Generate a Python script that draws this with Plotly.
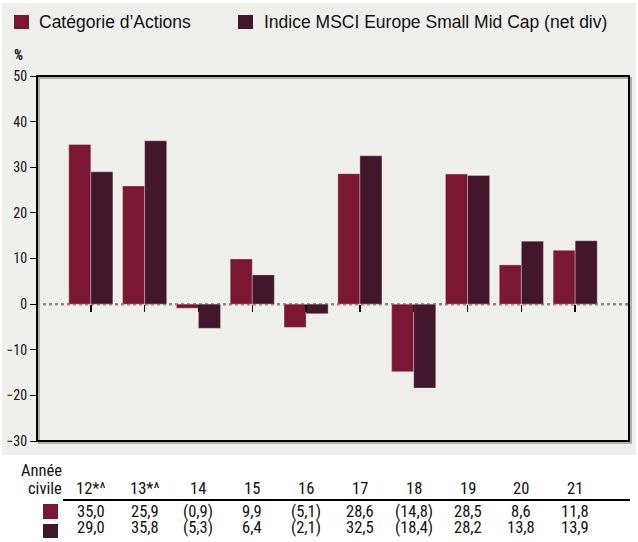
import plotly.graph_objects as go

years = ["12*^", "13*^", "14", "15", "16", "17", "18", "19", "20", "21"]
categorie = [35.0, 25.9, -0.9, 9.9, -5.1, 28.6, -14.8, 28.5, 8.6, 11.8]
indice = [29.0, 35.8, -5.3, 6.4, -2.1, 32.5, -18.4, 28.2, 13.8, 13.9]
series_names = ["Catégorie d’Actions", "Indice MSCI Europe Small Mid Cap (net div)"]
colors = ["#7b1733", "#43172b"]
y_ticks = [50, 40, 30, 20, 10, 0, -10, -20, -30]

W, H = 638, 542
L, R, T, B = 37, 629, 76, 441
NARROW = "Roboto Condensed, Liberation Sans, sans-serif"
LEGFONT = "Liberation Sans, Arial, sans-serif"
GREY = "#efefeb"
TXT = "#111111"


def px(x):
    return (x - L) / (R - L)


def py(y):
    return (B - y) / (B - T)


def fmt(v):
    s = f"{abs(v):.1f}".replace(".", ",")
    return f"({s})" if v < 0 else s


fig = go.Figure()
for name, vals, c in zip(series_names, [categorie, indice], colors):
    fig.add_trace(go.Bar(
        x=years, y=vals, name=name, marker_color=c,
        marker_line=dict(color="rgba(255,255,255,0.3)", width=1),
        showlegend=False, hoverinfo="skip",
    ))

shapes = []
# page grey background
shapes.append(dict(type="rect", xref="paper", yref="paper", layer="below",
                   x0=px(2), x1=px(636), y0=py(455), y1=py(3),
                   fillcolor=GREY, line=dict(width=0)))
# zero line (dotted)
shapes.append(dict(type="line", xref="paper", yref="y", layer="below",
                   x0=0, x1=1, y0=0, y1=0,
                   line=dict(color="#888888", width=2.5, dash="dot")))
# frame shadow and frame
shapes.append(dict(type="rect", xref="paper", yref="paper",
                   x0=px(L + 2), x1=px(R + 2), y0=py(B + 2), y1=py(T + 2),
                   line=dict(color="#b0b0ac", width=2)))
shapes.append(dict(type="rect", xref="paper", yref="paper",
                   x0=0, x1=1, y0=0, y1=1,
                   line=dict(color="#000000", width=2)))
# legend squares
shapes.append(dict(type="rect", xref="paper", yref="paper",
                   x0=px(14), x1=px(29), y0=py(29), y1=py(15),
                   fillcolor=colors[0], line=dict(width=0)))
shapes.append(dict(type="rect", xref="paper", yref="paper",
                   x0=px(238), x1=px(253), y0=py(29), y1=py(15),
                   fillcolor=colors[1], line=dict(width=0)))
# table rule and key squares
shapes.append(dict(type="line", xref="paper", yref="paper",
                   x0=px(63), x1=px(630), y0=py(500), y1=py(500),
                   line=dict(color="#000000", width=2)))
shapes.append(dict(type="rect", xref="paper", yref="paper",
                   x0=px(43), x1=px(58), y0=py(519), y1=py(504),
                   fillcolor=colors[0], line=dict(width=0)))
shapes.append(dict(type="rect", xref="paper", yref="paper",
                   x0=px(43), x1=px(58), y0=py(538), y1=py(524),
                   fillcolor=colors[1], line=dict(width=0)))

ann = []
leg = dict(family=LEGFONT, size=17.5, color=TXT)
hdr = dict(family=NARROW, size=16.5, color=TXT)
num = dict(family=NARROW, size=16.5, color=TXT)
ann.append(dict(text=series_names[0], x=px(37), y=py(22), xref="paper", yref="paper",
                xanchor="left", yanchor="middle", showarrow=False, font=leg))
ann.append(dict(text=series_names[1], x=px(262), y=py(22), xref="paper", yref="paper",
                xanchor="left", yanchor="middle", showarrow=False, font=leg))
ann.append(dict(text="<b>%</b>", x=px(12), y=py(55), xref="paper", yref="paper",
                xanchor="left", yanchor="middle", showarrow=False,
                font=dict(family=NARROW, size=14, color=TXT)))
ann.append(dict(text="Année", x=px(64), y=py(471), xref="paper", yref="paper",
                xanchor="right", yanchor="middle", showarrow=False, font=hdr))
ann.append(dict(text="civile", x=px(64), y=py(488), xref="paper", yref="paper",
                xanchor="right", yanchor="middle", showarrow=False, font=hdr))
for i, yr in enumerate(years):
    ann.append(dict(text=yr, x=i, y=py(488), xref="x", yref="paper",
                    xanchor="center", yanchor="middle", showarrow=False, font=hdr))
    ann.append(dict(text=fmt(categorie[i]), x=i, y=py(511.5), xref="x", yref="paper",
                    xanchor="center", yanchor="middle", showarrow=False, font=num))
    ann.append(dict(text=fmt(indice[i]), x=i, y=py(527), xref="x", yref="paper",
                    xanchor="center", yanchor="middle", showarrow=False, font=num))

fig.update_layout(
    width=W, height=H,
    margin=dict(l=L, r=W - R, t=T, b=H - B, pad=0),
    paper_bgcolor="white", plot_bgcolor=GREY,
    barmode="group", bargap=0.18, bargroupgap=0,
    shapes=shapes, annotations=ann, hovermode=False,
    xaxis=dict(type="category", range=[-1, len(years)], anchor="free",
               position=30 / 80, showticklabels=False, ticks="outside",
               ticklen=7, tickwidth=1.5, tickcolor="#000000", automargin=False,
               showgrid=False, showline=False, zeroline=False),
    yaxis=dict(range=[-30, 50], tickvals=y_ticks, ticks="outside", ticklen=6,
               tickwidth=1, tickcolor="#000000", showgrid=False, showline=False,
               zeroline=False, automargin=False,
               tickfont=dict(family=NARROW, size=14, color=TXT)),
    font=dict(family=NARROW),
)

fig.write_html("out.html", config={"displayModeBar": False, "staticPlot": True},
               post_script="document.body.style.margin='0';document.body.style.overflow='hidden';")
